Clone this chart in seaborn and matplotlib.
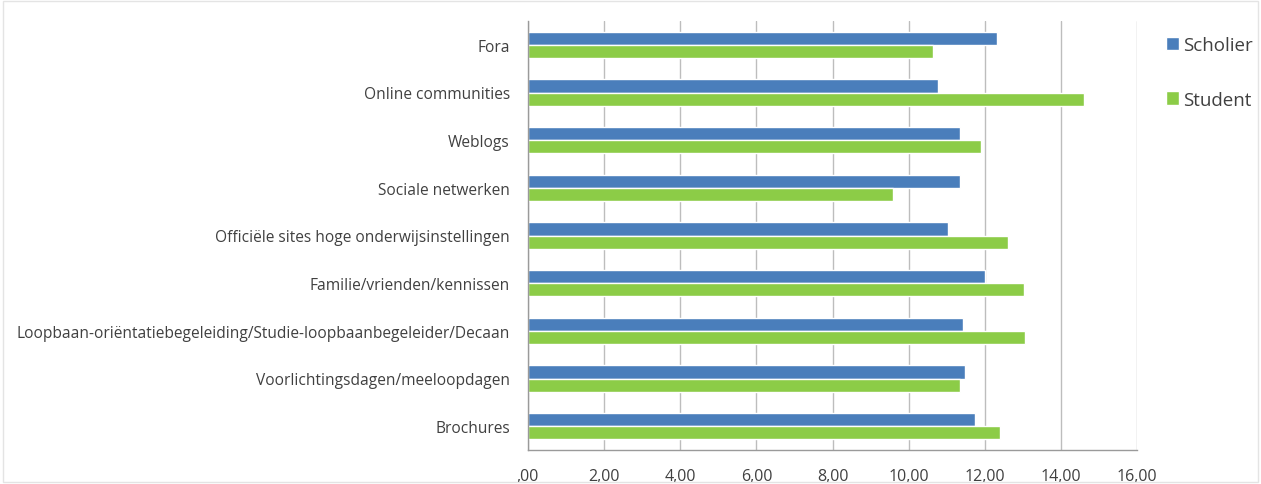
import pandas as pd
import matplotlib
matplotlib.use("Agg")
import matplotlib.pyplot as plt
import seaborn as sns

# --- data ---
categories = [
    "Fora",
    "Online communities",
    "Weblogs",
    "Sociale netwerken",
    "Officiële sites hoge onderwijsinstellingen",
    "Familie/vrienden/kennissen",
    "Loopbaan-oriëntatiebegeleiding/Studie-loopbaanbegeleider/Decaan",
    "Voorlichtingsdagen/meeloopdagen",
    "Brochures",
]
scholier = [12.32, 10.77, 11.36, 11.36, 11.03, 12.00, 11.43, 11.47, 11.74]
student = [10.64, 14.60, 11.91, 9.59, 12.60, 13.04, 13.05, 11.34, 12.39]
series = ["Scholier", "Student"]
x_ticks = [0, 2, 4, 6, 8, 10, 12, 14, 16]
x_ticklabels = [",00", "2,00", "4,00", "6,00", "8,00", "10,00", "12,00", "14,00", "16,00"]

df = pd.DataFrame({
    "categorie": categories * 2,
    "waarde": scholier + student,
    "groep": [series[0]] * len(categories) + [series[1]] * len(categories),
})

sns.set_theme(style="white")
plt.rcParams["font.family"] = ["Open Sans", "DejaVu Sans"]

fig = plt.figure(figsize=(12.61, 4.85), dpi=100)
ax = fig.add_axes([528 / 1261, 34 / 485, 609 / 1261, 429 / 485])

sns.barplot(
    data=df, y="categorie", x="waarde", hue="groep", orient="h",
    order=categories, hue_order=series,
    palette=["#4A7EBB", "#8CCC47"], width=0.55, gap=0,
    saturation=1, ax=ax, legend=True,
)

# assen in Excel-stijl
ax.set_xlim(0, 16)
ax.set_ylim(len(categories) - 0.5, -0.5)
ax.set_xticks(x_ticks)
ax.set_xticklabels(x_ticklabels)
ax.set_xlabel("")
ax.set_ylabel("")
ax.grid(axis="x", color="#BDBDBD", linewidth=1)
ax.set_axisbelow(True)
for side in ["top", "right"]:
    ax.spines[side].set_visible(False)
for side in ["left", "bottom"]:
    ax.spines[side].set_color("#9A9A9A")
    ax.spines[side].set_linewidth(1)

ax.tick_params(axis="x", length=5, color="#9A9A9A", direction="out",
               labelsize=11.5, labelcolor="#404040", pad=8)
ax.tick_params(axis="y", which="major", length=0, labelsize=11.2,
               labelcolor="#404040", pad=13)
ax.set_yticks([i + 0.5 for i in range(-1, len(categories))], minor=True)
ax.tick_params(axis="y", which="minor", length=5, color="#9A9A9A", direction="out")

leg = ax.legend(
    loc="upper left", bbox_to_anchor=(1166 / 1261, 1 - 37 / 485),
    bbox_transform=fig.transFigure, frameon=False, fontsize=13.5,
    handlelength=0.7, handleheight=0.7, handletextpad=0.2,
    labelspacing=1.95, borderpad=0, borderaxespad=0,
)
for t in leg.get_texts():
    t.set_color("#404040")

# dunne rand om de hele afbeelding
fig.patches.append(plt.Rectangle((0.002, 0.004), 0.996, 0.992, transform=fig.transFigure,
                                 fill=False, edgecolor="#E4E4E4", linewidth=1))

fig.savefig("out.png", dpi=100)
